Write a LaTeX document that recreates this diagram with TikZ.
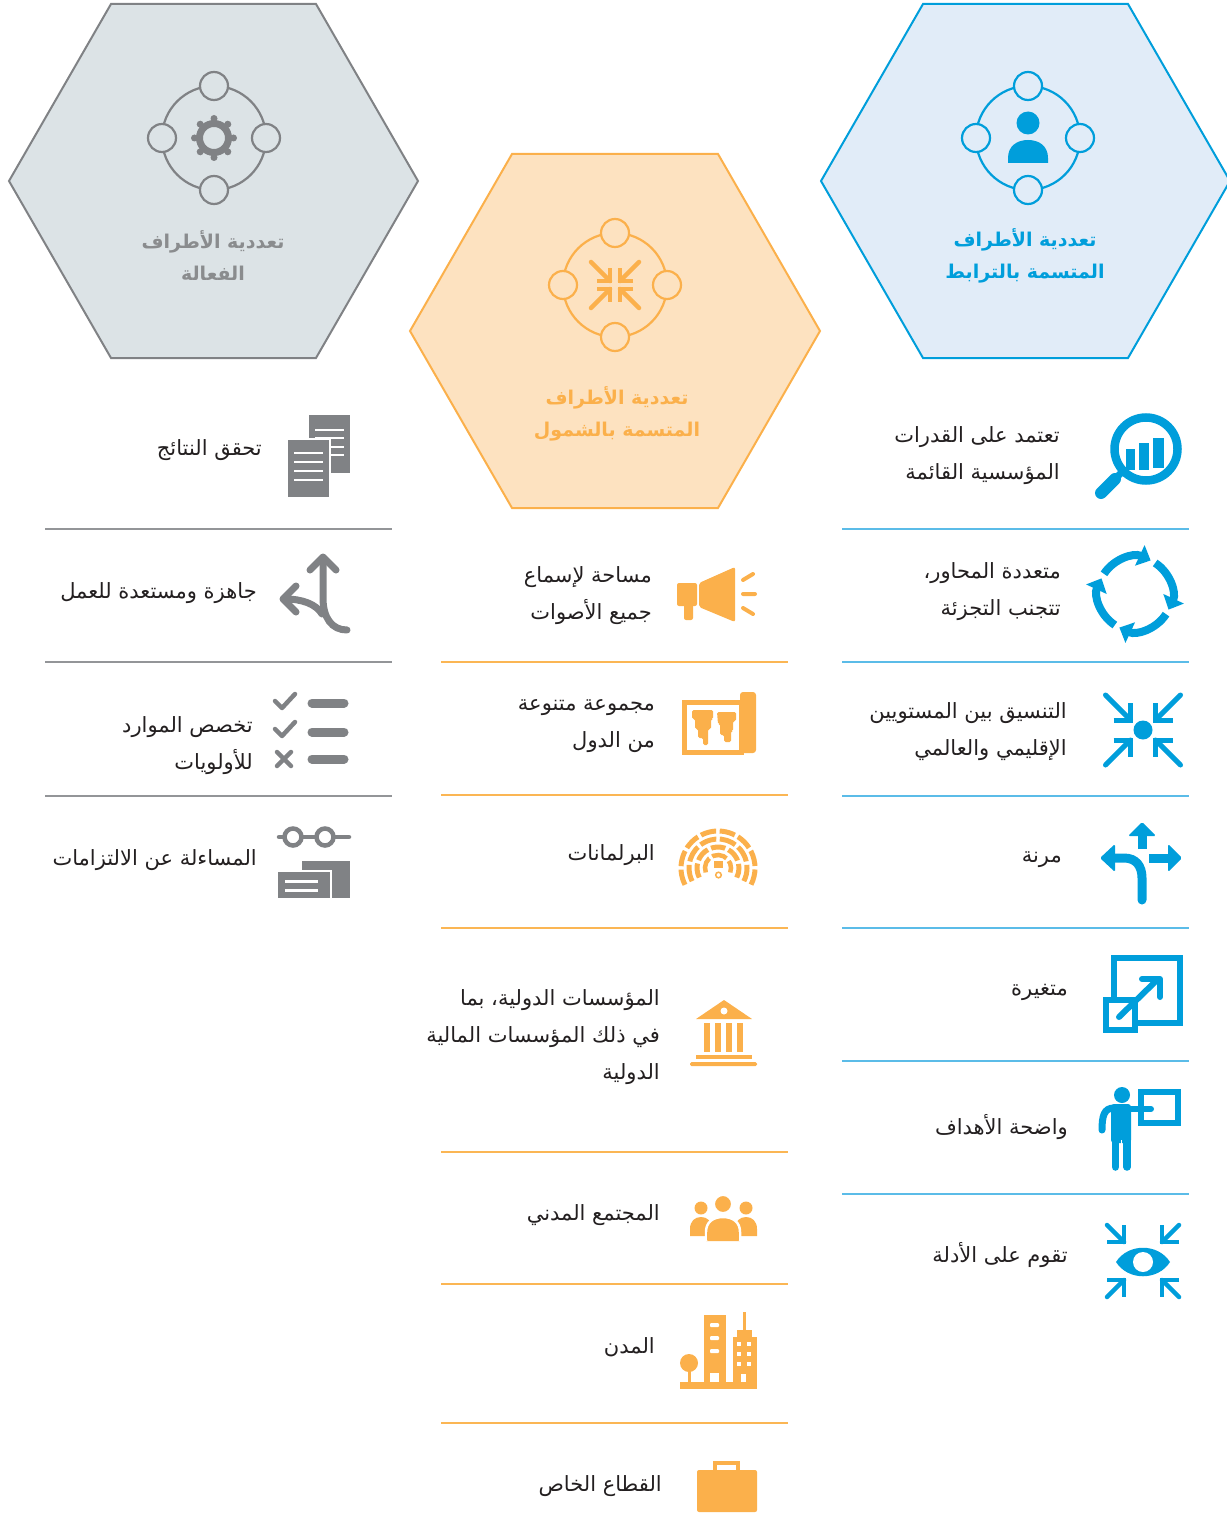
\documentclass[tikz,border=0pt]{standalone}
\usepackage{fontspec}
\TeXXeTstate=1
\newfontfamily\arabicfont[Script=Arabic]{DejaVu Sans}
\usetikzlibrary{arrows.meta}
\definecolor{gstroke}{HTML}{808285}
\definecolor{gfill}{HTML}{DCE3E6}
\definecolor{gtext}{HTML}{8A8C8E}
\definecolor{gline}{HTML}{939598}
\definecolor{ostroke}{HTML}{FBB04B}
\definecolor{ofill}{HTML}{FDE2C0}
\definecolor{oline}{HTML}{FBB654}
\definecolor{bstroke}{HTML}{009EDB}
\definecolor{bfill}{HTML}{E1ECF8}
\definecolor{bline}{HTML}{5BBCE8}
\definecolor{bodytext}{HTML}{231F20}
\newcommand{\RL}[1]{\beginR #1\endR}
\newcommand{\hexring}[4]{%
  \begin{scope}[shift={(#1,#2)}]
    \draw[#3, line width=2.2pt] (0,0) circle (52);
    \foreach \a in {0,90,180,270}
      \draw[#3, fill=#4, line width=2.2pt] (\a:52) circle (14);
  \end{scope}}
\newcommand{\convarrows}[8]{%
  \foreach \sx/\sy in {-1/-1,1/-1,-1/1,1/1}{
    \draw[#8, line width=#7, line cap=round]
      ({#1+\sx*(#5+#3)},{#2+\sy*(#5+#4)}) -- ({#1+\sx*#3},{#2+\sy*#4});
    \draw[#8, line width=#7, line cap=butt, line join=miter]
      ({#1+\sx*(#3+#6)},{#2+\sy*#4}) -- ({#1+\sx*#3},{#2+\sy*#4}) -- ({#1+\sx*#3},{#2+\sy*(#4+#6)});
  }}
\begin{document}
\begin{tikzpicture}[x=1pt,y=-1pt,
  itemtxt/.style={font=\arabicfont\fontsize{21pt}{37pt}\selectfont, align=right, inner sep=0pt, text=bodytext, anchor=east},
  hextitle/.style={font=\arabicfont\bfseries\fontsize{19pt}{32pt}\selectfont, align=center, inner sep=0pt},
  sepg/.style={gline, line width=1.5pt},
  sepo/.style={oline, line width=1.5pt},
  sepb/.style={bline, line width=1.5pt}]
\useasboundingbox (0,0) rectangle (1226,1514);

% ---------- hexagons ----------
\draw[fill=gfill, draw=gstroke, line width=2pt] (9,181) -- (111,4) -- (316,4) -- (418,181) -- (316,358) -- (111,358) -- cycle;
\draw[fill=bfill, draw=bstroke, line width=2pt] (821,181) -- (923,4) -- (1128,4) -- (1230,181) -- (1128,358) -- (923,358) -- cycle;
\draw[fill=ofill, draw=ostroke, line width=2pt] (410,331) -- (512,154) -- (718,154) -- (820,331) -- (718,508) -- (512,508) -- cycle;

\hexring{214}{138}{gstroke}{gfill}
\hexring{1028}{138}{bstroke}{bfill}
\hexring{615}{285}{ostroke}{ofill}

% gear
\begin{scope}[shift={(214,138)}]
  \draw[gstroke, line width=7pt] (0,0) circle (14.5);
  \foreach \a in {0,45,...,315} \fill[gstroke] (\a:19.5) circle (3.5);
\end{scope}
% person
\fill[bstroke] (1028,123) circle (11.5);
\fill[bstroke] (1008,163) -- (1008,158) .. controls (1008,146) and (1017,140) .. (1028,140) .. controls (1039,140) and (1048,146) .. (1048,158) -- (1048,163) -- cycle;
% converging arrows (orange hex)
\convarrows{615}{285}{5}{4}{19}{13}{4.5pt}{ostroke}

\node[hextitle, text=gtext] (hg) at (213,256) {\RL{تعددية الأطراف}\\\RL{الفعالة}};
\node[hextitle, text=bstroke] (hb) at (1025,256) {\RL{تعددية الأطراف}\\\RL{المتسمة بالترابط}};
\node[hextitle, text=ostroke] (ho) at (617,414) {\RL{تعددية الأطراف}\\\RL{المتسمة بالشمول}};

% ---------- separators ----------
\foreach \y in {529,662,796} \draw[sepg] (45,\y) -- (392,\y);
\foreach \y in {662,795,928,1152,1284,1423} \draw[sepo] (441,\y) -- (788,\y);
\foreach \y in {529,662,796,928,1061,1194} \draw[sepb] (842,\y) -- (1189,\y);

% ---------- gray column ----------
\node[itemtxt] (g1) at (262,450) {\RL{تحقق النتائج}};
\node[itemtxt] (g2) at (257,593) {\RL{جاهزة ومستعدة للعمل}};
\node[itemtxt] (g3) at (253,746) {\RL{تخصص الموارد}\\\RL{للأولويات}};
\node[itemtxt] (g4) at (257,860) {\RL{المساءلة عن الالتزامات}};

% documents icon
\fill[gstroke] (309,415) rectangle (350,473);
\foreach \y in {430,438,447,455} \draw[white, line width=2.5pt] (315,\y) -- (344,\y);
\fill[gstroke, draw=white, line width=2.5pt] (287,439) rectangle (330,498);
\foreach \y in {453,462,471,480} \draw[white, line width=2.5pt] (294,\y) -- (323,\y);
% fork icon
\draw[gstroke, line width=7pt, line cap=round] (323,560) -- (323,598) .. controls (323,618) and (332,630) .. (347,630);
\draw[gstroke, line width=7pt, line cap=round] (285,599) .. controls (302,599) and (316,604) .. (322,614);
\draw[gstroke, line width=7pt, line cap=round, line join=round] (310,570) -- (323,557) -- (336,570);
\draw[gstroke, line width=7pt, line cap=round, line join=round] (296,586) -- (283,599) -- (296,612);
% checklist
\foreach \y in {703,732,759} \draw[gstroke, line width=9pt, line cap=round] (312,\y) -- (344,\y);
\draw[gstroke, line width=4.5pt, line cap=round, line join=round] (275,701) -- (282,708) -- (295,694);
\draw[gstroke, line width=4.5pt, line cap=round, line join=round] (275,729) -- (282,736) -- (295,722);
\draw[gstroke, line width=4.5pt, line cap=round] (277,752) -- (291,766) (291,752) -- (277,766);
% glasses + documents
\draw[gstroke, line width=4.5pt] (293,837) circle (8.5) (325,837) circle (8.5);
\draw[gstroke, line width=4.5pt, line cap=round] (279,837) -- (284.5,837) (301.5,837) -- (316.5,837) (333.5,837) -- (349,837);
\fill[gstroke] (302,861) rectangle (350,898);
\fill[gstroke, draw=white, line width=2.5pt] (277,871) rectangle (331,899);
\draw[white, line width=3pt] (285,881) -- (318,881) (285,890) -- (318,890);

% ---------- orange column ----------
\node[itemtxt] (o1) at (652,596) {\RL{مساحة لإسماع}\\\RL{جميع الأصوات}};
\node[itemtxt] (o2) at (655,726) {\RL{مجموعة متنوعة}\\\RL{من الدول}};
\node[itemtxt] (o3) at (655,855) {\RL{البرلمانات}};
\node[itemtxt] (o4) at (660,1037) {\RL{المؤسسات الدولية، بما}\\\RL{في ذلك المؤسسات المالية}\\\RL{الدولية}};
\node[itemtxt] (o5) at (660,1215) {\RL{المجتمع المدني}};
\node[itemtxt] (o6) at (655,1347) {\RL{المدن}};
\node[itemtxt] (o7) at (662,1486) {\RL{القطاع الخاص}};

% megaphone
\fill[ostroke, rounded corners=2pt] (677,583) rectangle (697,606);
\fill[ostroke, rounded corners=2pt] (684,600) rectangle (693,620);
\fill[ostroke, rounded corners=2pt] (699,583) -- (735,567) -- (735,622) -- (699,607) -- cycle;
\draw[ostroke, line width=4pt, line cap=round] (743,580) -- (753,574) (743,594) -- (755,594) (743,608) -- (753,614);
% map of countries
\draw[ostroke, line width=5pt] (684.5,702.5) rectangle (741,752.5);
\fill[ostroke, rounded corners=3pt] (740,692) rectangle (756,753);
\fill[ostroke, rounded corners=1.5pt] (692,710) -- (713,710) -- (713,719) -- (711,719) -- (711,729) -- (708,729) -- (708,745) -- (703,745) -- (703,738) -- (698,738) -- (698,729) -- (695,729) -- (695,719) -- (692,719) -- cycle;
\fill[ostroke, rounded corners=1.5pt] (717,712) -- (736,712) -- (736,721) -- (733,721) -- (733,731) -- (731,731) -- (731,742) -- (724,742) -- (724,735) -- (720,735) -- (720,724) -- (718,724) -- cycle;
% parliament
\begin{scope}[shift={(718,868)}]
  \draw[ostroke, line width=5pt, dash pattern=on 15.8pt off 3.5pt] (153:37) arc[start angle=153, end angle=387, radius=37];
  \draw[ostroke, line width=5pt, dash pattern=on 16.8pt off 3.5pt] (153:29) arc[start angle=153, end angle=387, radius=29];
  \draw[ostroke, line width=5pt, dash pattern=on 14.4pt off 3.5pt] (153:21) arc[start angle=153, end angle=387, radius=21];
  \draw[ostroke, line width=4.5pt, dash pattern=on 15.3pt off 3.5pt] (160:13) arc[start angle=160, end angle=380, radius=13];
\end{scope}
\fill[ostroke] (714,861) rectangle (723,868);
\draw[ostroke, line width=1.5pt] (718.5,875) circle (2.8);
% bank
\fill[ostroke] (696,1019) -- (724,1000) -- (752,1019) -- cycle;
\fill[white] (724,1011) circle (3.5);
\foreach \x in {704,715,726,737} \fill[ostroke] (\x,1023) rectangle ++(6,29);
\fill[ostroke] (696,1055) rectangle (752,1059);
\fill[ostroke, rounded corners=1.5pt] (690,1062) rectangle (757,1066);
% people
\fill[ostroke] (690,1236) -- (690,1229) .. controls (690,1221) and (695,1217) .. (701,1217) .. controls (707,1217) and (712,1221) .. (712,1229) -- (712,1236) -- cycle;
\fill[ostroke] (735,1236) -- (735,1229) .. controls (735,1221) and (740,1217) .. (746,1217) .. controls (752,1217) and (757,1221) .. (757,1229) -- (757,1236) -- cycle;
\fill[ostroke] (701,1208) circle (6.5) (746,1208) circle (6.5);
\draw[white, line width=2.5pt, fill=ostroke] (706,1241) -- (706,1232) .. controls (706,1222) and (713,1217) .. (723,1217) .. controls (733,1217) and (740,1222) .. (740,1232) -- (740,1241);
\fill[ostroke] (707.3,1232) rectangle (738.7,1240);
\draw[white, line width=2pt, fill=ostroke] (723,1204) circle (9);
% city
\fill[ostroke] (680,1382) rectangle (757,1389);
\fill[ostroke] (689,1363) circle (9);
\fill[ostroke] (687.5,1365) rectangle (690.5,1383);
\fill[ostroke] (704,1315) rectangle (726,1385);
\foreach \y in {1323,1336,1349} \fill[white, rounded corners=1pt] (710,\y) rectangle ++(9,4);
\fill[white] (710,1373) rectangle (719,1382);
\fill[ostroke] (733,1337) rectangle (757,1385);
\fill[ostroke] (737,1330) rectangle (752,1338);
\fill[ostroke] (743,1312) rectangle (746,1331);
\foreach \x in {737,747} \foreach \y in {1342,1352,1362} \fill[white] (\x,\y) rectangle ++(4,4);
\fill[white] (741,1374) rectangle (746,1382);
% briefcase
\draw[ostroke, line width=4pt] (715,1473) -- (715,1463) -- (738,1463) -- (738,1473);
\fill[ostroke, rounded corners=2pt] (697,1470) rectangle (757,1512);

% ---------- blue column ----------
\node[itemtxt] (b1) at (1060,456) {\RL{تعتمد على القدرات}\\\RL{المؤسسية القائمة}};
\node[itemtxt] (b2) at (1061,592) {\RL{متعددة المحاور،}\\\RL{تتجنب التجزئة}};
\node[itemtxt] (b3) at (1067,732) {\RL{التنسيق بين المستويين}\\\RL{الإقليمي والعالمي}};
\node[itemtxt] (b4) at (1062,860) {\RL{مرنة}};
\node[itemtxt] (b5) at (1068,992) {\RL{متغيرة}};
\node[itemtxt] (b6) at (1068,1127) {\RL{واضحة الأهداف}};
\node[itemtxt] (b7) at (1068,1255) {\RL{تقوم على الأدلة}};

% magnifier
\draw[bstroke, line width=8.5pt] (1146,449) circle (31.5);
\draw[bstroke, line width=12pt, line cap=round] (1101,493) -- (1115,479);
\draw[bstroke, line width=7pt] (1110,484) -- (1124,470);
\fill[bstroke] (1126,449) rectangle (1135,470);
\fill[bstroke] (1139,443) rectangle (1149,470);
\fill[bstroke] (1153,438) rectangle (1164,468);
% cycle arrows
\begin{scope}[shift={(1135,594)}]
  \foreach \s in {-147,-57,33,123}
    \draw[bstroke, line width=8pt, -{Triangle[length=12pt,width=22pt]}] (\s:37) arc[start angle=\s, end angle=\s+82, radius=37];
\end{scope}
% converging arrows with dot
\fill[bstroke] (1143,730) circle (9.5);
\convarrows{1143}{730}{12.5}{10}{25}{17}{5pt}{bstroke}
% flexible arrows
\draw[bstroke, line width=9pt, line cap=round] (1142,900) -- (1142,878) .. controls (1142,866) and (1136,858) .. (1124,858) -- (1112,858);
\fill[bstroke, rounded corners=1.5pt] (1100,858) -- (1115,844) -- (1115,872) -- cycle;
\draw[bstroke, line width=9pt] (1142,849) -- (1142,834);
\fill[bstroke, rounded corners=1.5pt] (1142,822) -- (1156,836) -- (1128,836) -- cycle;
\draw[bstroke, line width=9pt] (1149,858) -- (1169,858);
\fill[bstroke, rounded corners=1.5pt] (1182,858) -- (1168,844) -- (1168,872) -- cycle;
% resize icon
\draw[bstroke, line width=6pt] (1114,958) rectangle (1180,1023);
\draw[bstroke, line width=6pt, fill=white] (1106,1000) rectangle (1135,1030);
\draw[bstroke, line width=6pt, line cap=round] (1119,1017) -- (1158,979);
\draw[bstroke, line width=6pt, line cap=round, line join=round] (1142,979) -- (1160,979) -- (1160,997);
% presenter
\fill[bstroke] (1122,1095) circle (8);
\draw[bstroke, line width=6pt] (1141,1092) rectangle (1178,1123);
\fill[bstroke, rounded corners=3pt] (1111,1104) rectangle (1131,1143);
\draw[bstroke, line width=7pt, line cap=round] (1114,1108) .. controls (1104,1108) and (1102,1116) .. (1102,1130);
\draw[bstroke, line width=6pt, line cap=round] (1126,1109) -- (1151,1109);
\draw[bstroke, line width=7.5pt, line cap=round] (1115.5,1138) -- (1115.5,1167) (1127,1138) -- (1127,1167);
\draw[white, line width=1.5pt] (1121.3,1140) -- (1121.3,1172);
% eye with arrows
\fill[bstroke] (1116,1262) .. controls (1128,1243) and (1158,1243) .. (1170,1262) .. controls (1158,1281) and (1128,1281) .. (1116,1262) -- cycle;
\fill[white] (1143,1262) circle (10);
\convarrows{1143}{1261}{19}{19}{17}{17}{4.5pt}{bstroke}
\end{tikzpicture}
\end{document}
